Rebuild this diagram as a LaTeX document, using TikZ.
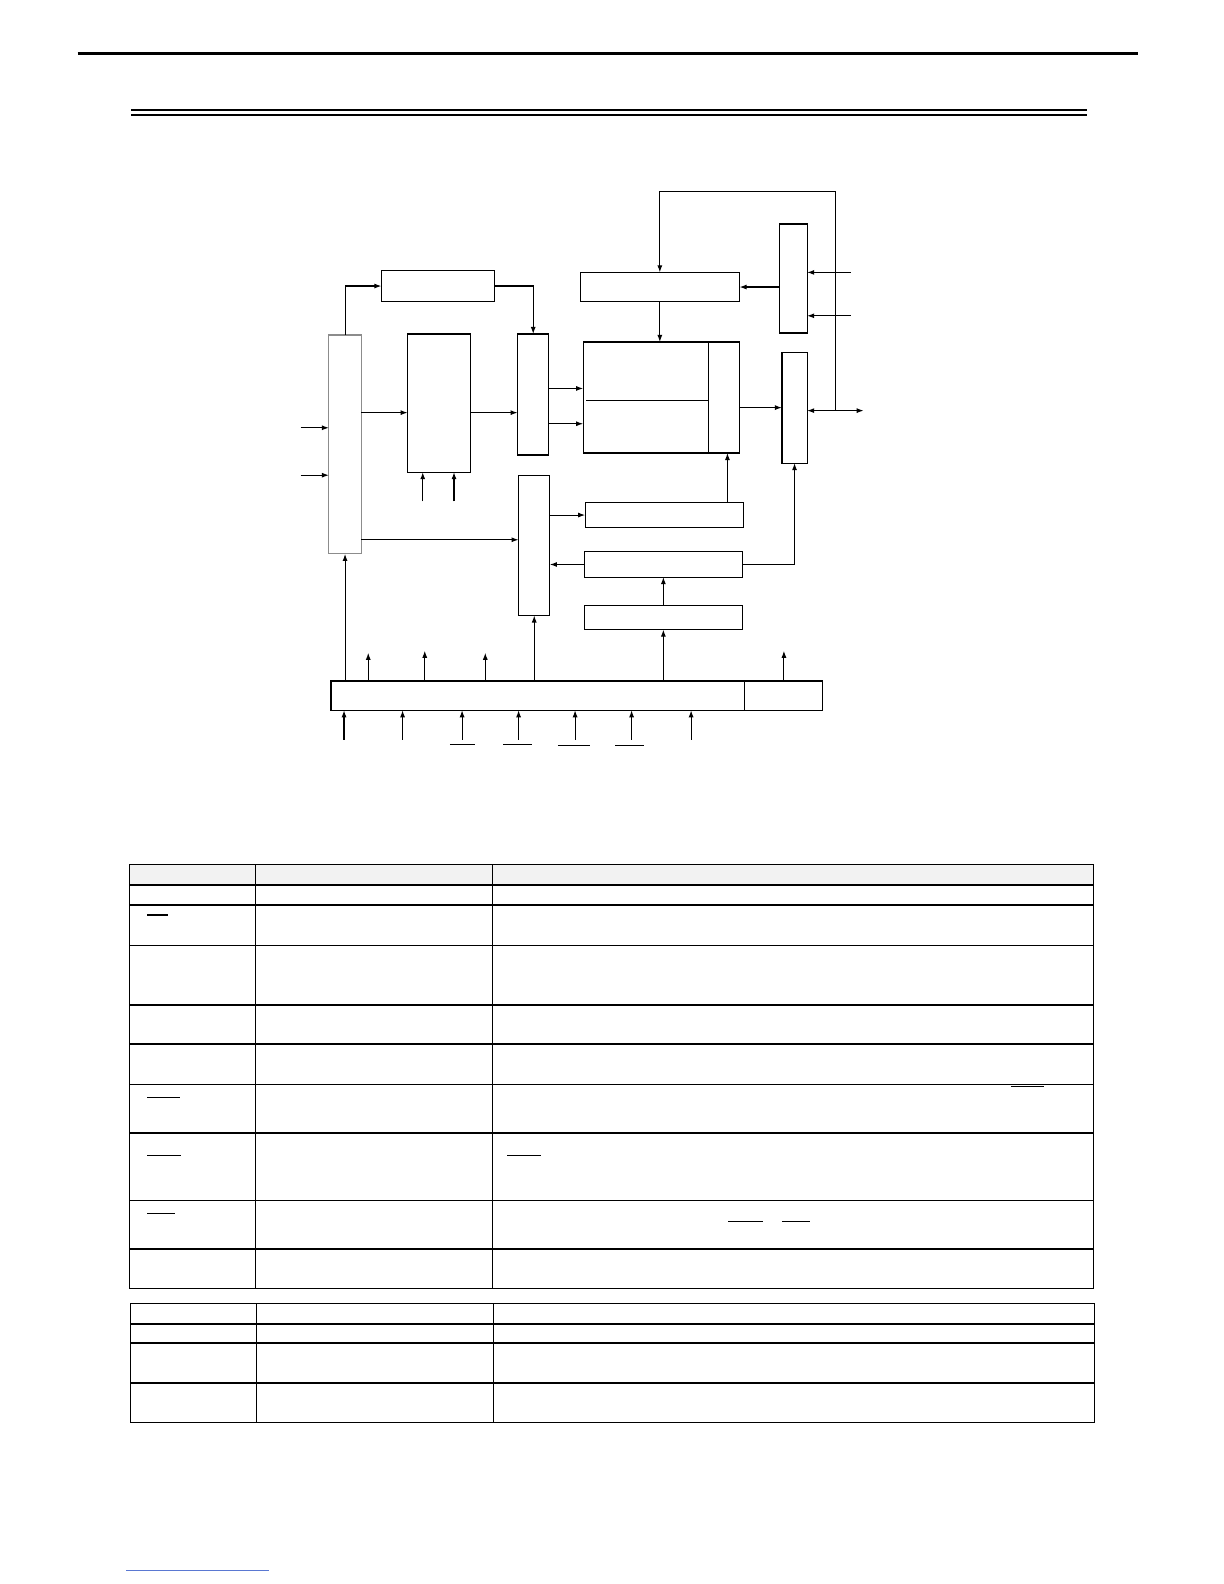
\documentclass[tikz,border=0pt]{standalone}
\usetikzlibrary{arrows.meta}
\definecolor{hdrgray}{RGB}{242,242,242}
\definecolor{boxgray}{RGB}{140,140,140}
\definecolor{footc}{RGB}{90,120,210}
\tikzset{
  box/.style={draw, line width=1.15pt, inner sep=0pt, outer sep=0pt, anchor=north west},
  arr/.style={line width=1.1pt, -{Latex[length=7pt,width=5pt]}},
  ln/.style={line width=1.15pt},
  hline/.style={line width=1.6pt},
  vline/.style={line width=1.0pt},
  ovl/.style={line width=1.2pt},
}
\newcommand\mybox[6][]{\node[box,#1,minimum width={#5-#3},minimum height={#6-#4}] (#2) at (#3,#4) {};}
\begin{document}
\begin{tikzpicture}[x=1pt,y=-1pt]
\useasboundingbox[fill=white] (0,0) rectangle (1213,1570);
% page rules
\draw[line width=2.8pt] (77,53) -- (1128,53);
\draw[line width=2pt] (130,109) -- (1077,109);
\draw[line width=2pt] (130,114) -- (1077,114);
% boxes
\mybox{T1}{378}{268}{490}{299}
\mybox{T2}{575}{270}{733}{299}
\mybox{R1}{773}{222}{800}{330}
\mybox{R2}{775}{349}{800}{459}
\mybox[draw=boxgray]{L}{326}{332}{358}{549}
\mybox{M1}{404}{331}{466}{468}
\mybox{M2}{513}{331}{544}{451}
\mybox{C}{578}{339}{733}{449}
\mybox{M3}{514}{471}{545}{610}
\mybox{B1}{580}{498}{737}{523}
\mybox{B2}{579}{547}{736}{572}
\mybox{B3}{579}{600}{736}{624}
\mybox{BB}{328}{675}{738}{704}
\mybox{BR}{738}{675}{815}{704}
% inner lines of C
\coordinate (cdiv) at (702,0);
\draw[ln] (C.north -| cdiv) -- (C.south -| cdiv);
\coordinate (cin1) at (581,397);
\draw[ln] (cin1) -- (cin1 -| cdiv);
% helper coordinates
\coordinate (ri1) at (843,270);
\coordinate (ri2) at (843,313);
\coordinate (jn) at (828,407);
\coordinate (out) at (856,407);
\coordinate (fbtop) at (828,190);
\coordinate (li1) at (298,424);
\coordinate (li2) at (298,471);
\coordinate (ya) at (0,409);
\coordinate (yb) at (0,385);
\coordinate (yc) at (0,420);
\coordinate (yd) at (0,535);
\coordinate (m1a) at (419,497);
\coordinate (m1b) at (450,497);
\coordinate (xc) at (721,0);
\coordinate (o1) at (365,647);
\coordinate (o2) at (421,645);
\coordinate (o3) at (481,647);
\coordinate (o4) at (777,645);
\coordinate (i1) at (341,733);
\coordinate (i2) at (399,733);
\coordinate (i3) at (458,733);
\coordinate (i4) at (514,733);
\coordinate (i5) at (570,733);
\coordinate (i6) at (626,733);
\coordinate (i7) at (685,733);
% connectors
\draw[arr] (L.north) |- (T1.west);
\draw[arr] (T1.east) -| (M2.north);
\draw[arr] (T2.south) -- (T2.south |- C.north);
\draw[arr] (R1.west |- T2.east) -- (T2.east);
\draw[arr] (ri1) -- (ri1 -| R1.east);
\draw[arr] (ri2) -- (ri2 -| R1.east);
\draw[arr] (C.east |- R2.west) -- (R2.west);
\draw[arr] (jn) -- (jn -| R2.east);
\draw[arr] (jn) -- (out);
\draw[arr] (jn) -- (fbtop) -| (T2.north);
\draw[arr] (li1) -- (li1 -| L.west);
\draw[arr] (li2) -- (li2 -| L.west);
\draw[arr] (L.east |- ya) -- (M1.west |- ya);
\draw[arr] (M1.east |- ya) -- (M2.west |- ya);
\draw[arr] (M2.east |- yb) -- (C.west |- yb);
\draw[arr] (M2.east |- yc) -- (C.west |- yc);
\draw[arr] (m1a) -- (m1a |- M1.south);
\draw[arr] (m1b) -- (m1b |- M1.south);
\draw[arr] (L.east |- yd) -- (M3.west |- yd);
\draw[arr] (M3.east |- B1.west) -- (B1.west);
\draw[arr] (B2.west) -- (B2.west -| M3.east);
\draw[arr] (B2.east) -| (R2.south);
\draw[arr] (B1.north -| xc) -- (C.south -| xc);
\draw[arr] (B3.north) -- (B2.south);
\draw[arr] (BB.north -| B3.south) -- (B3.south);
\draw[arr] (BB.north -| M3.south) -- (M3.south);
\draw[arr] (BB.north -| L.south) -- (L.south);
\draw[arr] (o1 |- BB.north) -- (o1);
\draw[arr] (o2 |- BB.north) -- (o2);
\draw[arr] (o3 |- BB.north) -- (o3);
\draw[arr] (o4 |- BR.north) -- (o4);
\foreach \p in {i1,i2,i3,i4,i5,i6,i7} \draw[arr] (\p) -- (\p |- BB.south);
% overlines below
\draw[ovl] (446,738) -- (471,738);
\draw[ovl] (499,738) -- (527,738);
\draw[ovl] (553,739) -- (585,739);
\draw[ovl] (610,739) -- (638,739);
% table 1
\fill[hdrgray] (128,857) rectangle (1084,877);
\foreach \yy in {857,877,897,937,996,1035,1075,1123,1190,1238,1277}
  \draw[hline] (128,\yy) -- (1084,\yy);
\foreach \xx in {128,253,488,1084}
  \draw[vline] (\xx,857) -- (\xx,1277);
% overlines in table
\draw[ovl] (146,907) -- (167,907);
\draw[ovl] (146,1088) -- (178,1088);
\draw[ovl] (1002,1077) -- (1035,1077);
\draw[ovl] (146,1145) -- (179,1145);
\draw[ovl] (503,1145) -- (536,1145);
\draw[ovl] (146,1203) -- (173,1203);
\draw[ovl] (722,1211) -- (756,1211);
\draw[ovl] (775,1211) -- (803,1211);
% table 2
\foreach \yy in {1292,1312,1331,1371,1410}
  \draw[hline] (129,\yy) -- (1085,\yy);
\foreach \xx in {129,254,489,1085}
  \draw[vline] (\xx,1292) -- (\xx,1410);
% footer
\draw[line width=0.9pt, footc] (125,1557) -- (267,1557);
\end{tikzpicture}
\end{document}
